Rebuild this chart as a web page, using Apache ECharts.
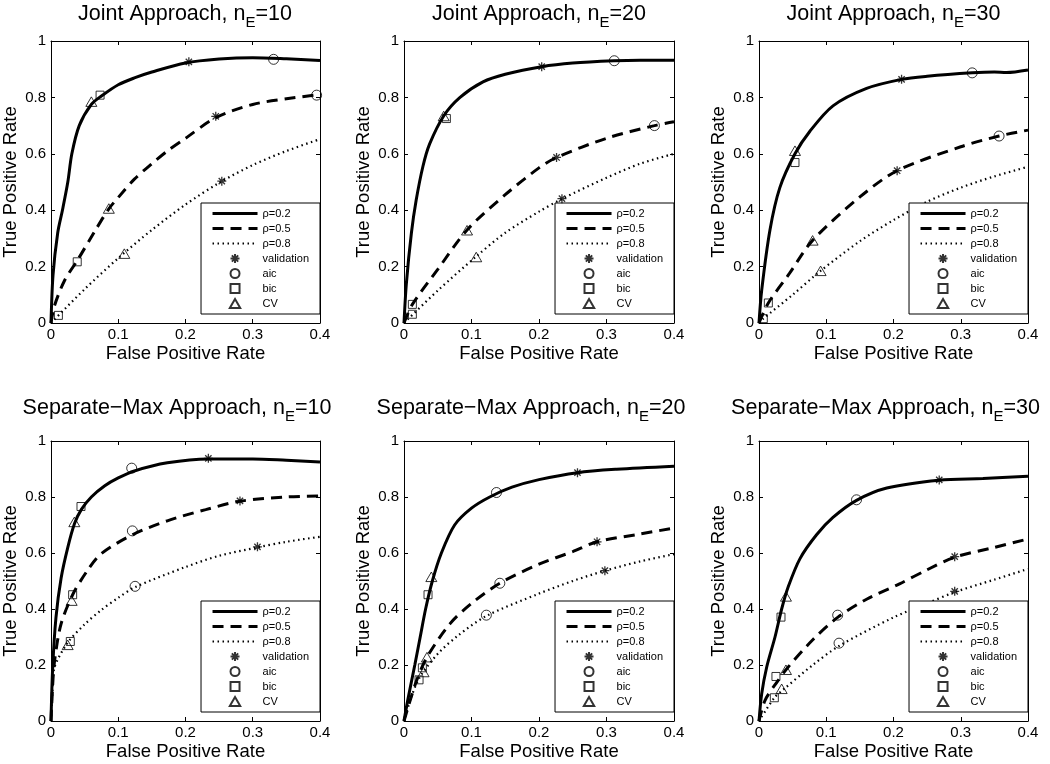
<!DOCTYPE html>
<html>
<head>
<meta charset="utf-8">
<script src="https://cdn.jsdelivr.net/npm/echarts@6/dist/echarts.min.js"></script>
<style>html,body{margin:0;padding:0;background:#fff}#c{width:1050px;height:764px}</style>
</head>
<body>
<div id="c"></div>
<script>
// ---------- text / categories ----------
const PANEL_APPROACH = ['Joint Approach', 'Joint Approach', 'Joint Approach',
  'Separate\u2212Max Approach', 'Separate\u2212Max Approach', 'Separate\u2212Max Approach'];
const PANEL_NE = [10, 20, 30, 10, 20, 30];
const CURVE_NAMES = ['\u03c1=0.2', '\u03c1=0.5', '\u03c1=0.8'];
const MARKER_NAMES = ['validation', 'aic', 'bic', 'CV'];
const X_AXIS_NAME = 'False Positive Rate';
const Y_AXIS_NAME = 'True Positive Rate';
const X_RANGE = [0, 0.4];   // ticks 0, 0.1, ..., 0.4
const X_STEP = 0.1;
const Y_RANGE = [0, 1];     // ticks 0, 0.2, ..., 1
const Y_STEP = 0.2;

// ---------- Joint, nE=10 ----------
const J10_R2 = [[0,0],[0.003,0.17],[0.01,0.32],[0.017,0.4],[0.025,0.5],[0.031,0.6],[0.042,0.7],[0.06,0.775],[0.075,0.805],[0.1,0.845],[0.125,0.87],[0.15,0.89],[0.2,0.922],[0.25,0.936],[0.3,0.941],[0.35,0.937],[0.4,0.931]];
const J10_R5 = [[0,0],[0.005,0.06],[0.02,0.15],[0.04,0.225],[0.065,0.325],[0.086,0.405],[0.1,0.445],[0.124,0.51],[0.15,0.565],[0.173,0.61],[0.2,0.655],[0.245,0.728],[0.3,0.775],[0.35,0.795],[0.4,0.81]];
const J10_R8 = [[0,0],[0.05,0.12],[0.1,0.23],[0.15,0.33],[0.2,0.42],[0.25,0.497],[0.3,0.56],[0.35,0.61],[0.4,0.652]];
const J10_VALIDATION = [[0.205,0.926],[0.245,0.733],[0.254,0.503]];
const J10_AIC = [[0.331,0.935],[0.395,0.808]];
const J10_BIC = [[0.073,0.808],[0.039,0.217],[0.011,0.027]];
const J10_CV = [[0.06,0.785],[0.086,0.406],[0.109,0.246]];

// ---------- Joint, nE=20 ----------
const J20_R2 = [[0,0],[0.0035,0.14],[0.011,0.32],[0.018,0.435],[0.028,0.555],[0.038,0.635],[0.059,0.735],[0.083,0.8],[0.117,0.855],[0.15,0.882],[0.204,0.909],[0.25,0.922],[0.311,0.93],[0.35,0.932],[0.4,0.932]];
const J20_R5 = [[0,0],[0.0124,0.066],[0.05,0.19],[0.0934,0.33],[0.15,0.455],[0.2,0.55],[0.226,0.587],[0.3,0.655],[0.371,0.7],[0.4,0.714]];
const J20_R8 = [[0,0],[0.05,0.115],[0.107,0.236],[0.15,0.32],[0.2,0.395],[0.234,0.44],[0.3,0.515],[0.35,0.565],[0.4,0.6]];
const J20_VALIDATION = [[0.204,0.909],[0.226,0.587],[0.234,0.441]];
const J20_AIC = [[0.3115,0.93],[0.371,0.7]];
const J20_BIC = [[0.0628,0.725],[0.0124,0.066],[0.0124,0.031]];
const J20_CV = [[0.0588,0.734],[0.0934,0.329],[0.107,0.234]];

// ---------- Joint, nE=30 ----------
const J30_R2 = [[0,0],[0.004,0.116],[0.0163,0.33],[0.031,0.48],[0.0535,0.6],[0.0757,0.68],[0.11,0.77],[0.16,0.832],[0.212,0.864],[0.25,0.875],[0.317,0.887],[0.35,0.89],[0.368,0.888],[0.4,0.897]];
const J30_R5 = [[0,0],[0.0139,0.071],[0.045,0.175],[0.0797,0.293],[0.15,0.447],[0.2054,0.54],[0.3,0.625],[0.357,0.663],[0.4,0.684]];
const J30_R8 = [[0,0],[0.0064,0.0154],[0.05,0.1],[0.0916,0.185],[0.15,0.29],[0.2,0.365],[0.25,0.43],[0.3,0.48],[0.35,0.52],[0.4,0.554]];
const J30_VALIDATION = [[0.212,0.864],[0.2054,0.54]];
const J30_AIC = [[0.317,0.887],[0.357,0.663]];
const J30_BIC = [[0.0535,0.569],[0.0139,0.071],[0.0064,0.0154]];
const J30_CV = [[0.0535,0.611],[0.0797,0.293],[0.0916,0.185]];

// ---------- Separate-Max, nE=10 ----------
const S10_R2 = [[0,0],[0.0025,0.19],[0.0074,0.37],[0.015,0.51],[0.025,0.62],[0.035,0.705],[0.045,0.755],[0.06,0.8],[0.08,0.84],[0.1,0.868],[0.124,0.893],[0.173,0.922],[0.234,0.936],[0.3,0.936],[0.35,0.931],[0.4,0.925]];
const S10_R5 = [[0,0],[0.003,0.15],[0.006,0.228],[0.015,0.347],[0.032,0.45],[0.054,0.537],[0.074,0.596],[0.121,0.665],[0.173,0.715],[0.23,0.755],[0.281,0.785],[0.35,0.8],[0.4,0.804]];
const S10_R8 = [[0,0],[0.002,0.1],[0.005,0.19],[0.025,0.28],[0.05,0.345],[0.074,0.395],[0.1,0.44],[0.125,0.478],[0.2,0.55],[0.25,0.59],[0.307,0.62],[0.35,0.64],[0.4,0.658]];
const S10_VALIDATION = [[0.234,0.938],[0.281,0.786],[0.307,0.622]];
const S10_AIC = [[0.12,0.903],[0.121,0.679],[0.125,0.481]];
const S10_BIC = [[0.0446,0.766],[0.0322,0.451],[0.0287,0.284]];
const S10_CV = [[0.0347,0.711],[0.0307,0.43],[0.0248,0.272]];

// ---------- Separate-Max, nE=20 ----------
const S20_R2 = [[0,0],[0.006,0.08],[0.016,0.2],[0.024,0.3],[0.032,0.4],[0.042,0.5],[0.0554,0.6],[0.075,0.7],[0.1,0.76],[0.127,0.8],[0.16,0.835],[0.2,0.862],[0.257,0.887],[0.315,0.899],[0.4,0.91]];
const S20_R5 = [[0,0],[0.018,0.14],[0.034,0.228],[0.068,0.347],[0.1,0.42],[0.142,0.492],[0.2,0.56],[0.25,0.605],[0.286,0.64],[0.35,0.668],[0.4,0.689]];
const S20_R8 = [[0,0],[0.01,0.08],[0.023,0.155],[0.05,0.24],[0.08,0.305],[0.122,0.375],[0.2,0.455],[0.25,0.5],[0.298,0.537],[0.35,0.57],[0.4,0.596]];
const S20_VALIDATION = [[0.257,0.887],[0.286,0.64],[0.2976,0.537]];
const S20_AIC = [[0.137,0.816],[0.142,0.492],[0.122,0.378]];
const S20_BIC = [[0.0356,0.451],[0.0272,0.19],[0.0223,0.147]];
const S20_CV = [[0.0405,0.515],[0.034,0.228],[0.029,0.175]];

// ---------- Separate-Max, nE=30 ----------
const S30_R2 = [[0,0],[0.004,0.097],[0.0114,0.192],[0.0238,0.3],[0.0337,0.4],[0.0436,0.48],[0.061,0.58],[0.0856,0.665],[0.11,0.727],[0.145,0.788],[0.19,0.832],[0.268,0.86],[0.333,0.866],[0.4,0.874]];
const S30_R5 = [[0,0],[0.009,0.074],[0.027,0.14],[0.041,0.186],[0.08,0.29],[0.117,0.37],[0.16,0.435],[0.209,0.49],[0.25,0.54],[0.291,0.585],[0.35,0.62],[0.4,0.65]];
const S30_R8 = [[0,0],[0.0228,0.083],[0.036,0.112],[0.08,0.2],[0.119,0.268],[0.2,0.37],[0.25,0.42],[0.291,0.46],[0.35,0.505],[0.4,0.543]];
const S30_VALIDATION = [[0.268,0.861],[0.291,0.587],[0.291,0.463]];
const S30_AIC = [[0.145,0.79],[0.117,0.378],[0.119,0.278]];
const S30_BIC = [[0.0327,0.371],[0.0252,0.159],[0.0228,0.083]];
const S30_CV = [[0.0401,0.445],[0.0401,0.183],[0.0337,0.115]];

const PANEL_CURVES = [
  [J10_R2, J10_R5, J10_R8], [J20_R2, J20_R5, J20_R8], [J30_R2, J30_R5, J30_R8],
  [S10_R2, S10_R5, S10_R8], [S20_R2, S20_R5, S20_R8], [S30_R2, S30_R5, S30_R8]
];
const PANEL_MARKERS = [
  [J10_VALIDATION, J10_AIC, J10_BIC, J10_CV], [J20_VALIDATION, J20_AIC, J20_BIC, J20_CV],
  [J30_VALIDATION, J30_AIC, J30_BIC, J30_CV], [S10_VALIDATION, S10_AIC, S10_BIC, S10_CV],
  [S20_VALIDATION, S20_AIC, S20_BIC, S20_CV], [S30_VALIDATION, S30_AIC, S30_BIC, S30_CV]
];

// ---------- layout & style ----------
const W = 1050, H = 764;
const FONT = 'Liberation Sans, Arial, Helvetica, sans-serif';
const COL_LEFT = [50, 404, 759];
const COL_WIDTH = [270, 270, 269];
const ROW_TOP = [41, 441];
const ROW_HEIGHT = [282, 280];
const TITLE_TOP = [-1.5, 392.5];
const TITLE_CENTER_SHIFT = [0, -8];

const CURVE_STYLES = [
  {color: '#000', width: 3, type: 'solid'},
  {color: '#000', width: 3, type: [11, 7]},
  {color: '#000', width: 2.2, type: [1.5, 3.5]}
];
const ASTERISK = 'path://M5 0L5 10M0 5L10 5M1.5 1.5L8.5 8.5M8.5 1.5L1.5 8.5';
const SQUARE = 'path://M0 0L10 0L10 10L0 10Z';
const TRIANGLE = 'path://M5 0L10 8.66L0 8.66Z';
const MARKER_SYMBOLS = [ASTERISK, 'circle', SQUARE, TRIANGLE];
const MARKER_SIZES = [9, 10, 8, 11];
const MARKER_WIDTHS = [1.3, 1, 1, 1];

const grids = [], xAxes = [], yAxes = [], series = [], titles = [], legends = [];

for (let p = 0; p < 6; p++) {
  const r = Math.floor(p / 3), c = p % 3;
  const left = COL_LEFT[c], top = ROW_TOP[r], w = COL_WIDTH[c], h = ROW_HEIGHT[r];
  grids.push({left: left, top: top, width: w, height: h, containLabel: false});

  const baseX = {
    type: 'value', gridIndex: p, min: X_RANGE[0], max: X_RANGE[1], interval: X_STEP,
    splitLine: {show: false},
    axisLine: {show: true, onZero: false, lineStyle: {color: '#000', width: 1}},
    axisTick: {show: true, inside: true, length: 4, lineStyle: {color: '#000', width: 1}}
  };
  xAxes.push(Object.assign({}, baseX, {
    position: 'bottom',
    axisLabel: {show: true, color: '#000', fontSize: 15, fontFamily: FONT, margin: 4},
    name: X_AXIS_NAME, nameLocation: 'middle', nameGap: 21,
    nameTextStyle: {color: '#000', fontSize: 18.5, fontFamily: FONT}
  }));
  xAxes.push(Object.assign({}, baseX, {position: 'top', axisLabel: {show: false}}));

  const baseY = {
    type: 'value', gridIndex: p, min: Y_RANGE[0], max: Y_RANGE[1], interval: Y_STEP,
    splitLine: {show: false},
    axisLine: {show: true, onZero: false, lineStyle: {color: '#000', width: 1}},
    axisTick: {show: true, inside: true, length: 4, lineStyle: {color: '#000', width: 1}}
  };
  yAxes.push(Object.assign({}, baseY, {
    position: 'left',
    axisLabel: {show: true, color: '#000', fontSize: 15, fontFamily: FONT, margin: 5},
    name: Y_AXIS_NAME, nameLocation: 'middle', nameGap: 31,
    nameTextStyle: {color: '#000', fontSize: 18.5, fontFamily: FONT}
  }));
  yAxes.push(Object.assign({}, baseY, {position: 'right', axisLabel: {show: false}}));

  titles.push({
    text: '{a|' + PANEL_APPROACH[p] + ', n}{s|E}{a|=' + PANEL_NE[p] + '}',
    left: left + w / 2 + TITLE_CENTER_SHIFT[r], top: TITLE_TOP[r], textAlign: 'center', padding: 0,
    textStyle: {
      fontWeight: 'normal',
      rich: {
        a: {fontSize: 21.5, fontFamily: FONT, color: '#000', fontWeight: 'normal'},
        s: {fontSize: 15, fontFamily: FONT, color: '#000', fontWeight: 'normal', padding: [17, 0, 0, 0]}
      }
    }
  });

  const legendData = CURVE_NAMES.map((n, i) => ({
      name: n,
      lineStyle: {width: CURVE_STYLES[i].width},
      itemStyle: {color: 'rgba(0,0,0,0)', borderWidth: 0, opacity: 0}
    }))
    .concat(MARKER_NAMES.map(n => ({name: n})));
  legends.push({
    data: legendData, orient: 'vertical',
    right: W - (left + w), bottom: H - (top + h) + 9,
    itemWidth: 45, itemHeight: 9, itemGap: 4,
    symbolKeepAspect: true,
    padding: [5, 11, 5, 10],
    backgroundColor: '#fff', borderColor: '#000', borderWidth: 1, borderRadius: 0,
    selectedMode: false,
    textStyle: {color: '#000', fontSize: 11, fontFamily: FONT}
  });

  PANEL_CURVES[p].forEach((d, i) => {
    series.push({
      type: 'line', name: CURVE_NAMES[i], xAxisIndex: 2 * p, yAxisIndex: 2 * p,
      data: d, symbol: 'none', smooth: 0.3,
      itemStyle: {color: '#000'},
      lineStyle: CURVE_STYLES[i], silent: true, z: 3
    });
  });
  PANEL_MARKERS[p].forEach((d, i) => {
    series.push({
      type: 'scatter', name: MARKER_NAMES[i], xAxisIndex: 2 * p, yAxisIndex: 2 * p,
      data: d, symbol: MARKER_SYMBOLS[i], symbolSize: MARKER_SIZES[i], symbolKeepAspect: true,
      itemStyle: {color: 'rgba(0,0,0,0)', borderColor: '#000', borderWidth: MARKER_WIDTHS[i]},
      silent: true, z: 4
    });
  });
}

const chart = echarts.init(document.getElementById('c'), null, {renderer: 'canvas', width: W, height: H});
chart.setOption({
  animation: false,
  backgroundColor: '#fff',
  title: titles,
  legend: legends,
  grid: grids,
  xAxis: xAxes,
  yAxis: yAxes,
  series: series
});
</script>
</body>
</html>
